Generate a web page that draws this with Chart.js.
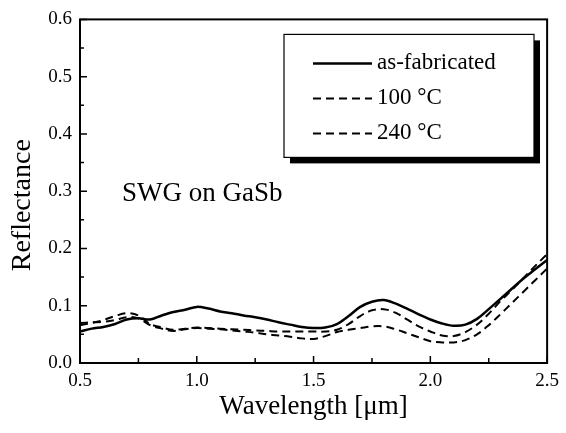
<!DOCTYPE html>
<html>
<head>
<meta charset="utf-8">
<script src="https://cdn.jsdelivr.net/npm/chart.js@4.4.1/dist/chart.umd.min.js"></script>
<style>
  html, body { margin: 0; padding: 0; background: #fff; }
  #wrap { width: 566px; height: 433px; }
</style>
</head>
<body>
<div id="wrap"><canvas id="reflChart" width="566" height="433"></canvas></div>
<script>
// wavelength in um, reflectance
const wavelength = [0.5, 0.55, 0.6, 0.65, 0.7, 0.75, 0.8, 0.85, 0.9, 0.95, 1.0, 1.05, 1.1, 1.15, 1.2, 1.25, 1.3, 1.35, 1.4, 1.45,
                    1.5, 1.55, 1.6, 1.65, 1.7, 1.75, 1.8, 1.85, 1.9, 1.95, 2.0, 2.05, 2.1, 2.15, 2.2, 2.25, 2.3, 2.35, 2.4, 2.45, 2.5];
const asFabricated = [0.055, 0.060, 0.063, 0.068, 0.076, 0.078, 0.076, 0.083, 0.089, 0.093, 0.098, 0.095, 0.090, 0.087, 0.083, 0.080, 0.076, 0.071, 0.067, 0.063,
                      0.061, 0.062, 0.068, 0.082, 0.098, 0.107, 0.110, 0.104, 0.095, 0.085, 0.076, 0.069, 0.065, 0.067, 0.077, 0.094, 0.112, 0.130, 0.148, 0.164, 0.180];
const anneal100 = [0.066, 0.070, 0.075, 0.082, 0.087, 0.083, 0.068, 0.062, 0.058, 0.060, 0.062, 0.061, 0.060, 0.059, 0.058, 0.057, 0.056, 0.055, 0.055, 0.055,
                   0.055, 0.055, 0.058, 0.068, 0.082, 0.092, 0.094, 0.088, 0.076, 0.064, 0.055, 0.048, 0.047, 0.054, 0.067, 0.086, 0.108, 0.128, 0.149, 0.170, 0.190];
const anneal240 = [0.070, 0.071, 0.072, 0.075, 0.080, 0.078, 0.066, 0.060, 0.056, 0.059, 0.061, 0.060, 0.059, 0.057, 0.055, 0.053, 0.050, 0.048, 0.046, 0.043,
                   0.042, 0.047, 0.054, 0.058, 0.061, 0.064, 0.064, 0.059, 0.052, 0.045, 0.038, 0.036, 0.036, 0.040, 0.050, 0.066, 0.085, 0.105, 0.125, 0.145, 0.165];

const seriesLabels = ['as-fabricated', '100 \u00b0C', '240 \u00b0C'];
const xTicks = { min: 0.5, max: 2.5, step: 0.5 };
const yTicks = { min: 0, max: 0.6, step: 0.1 };
const noteText = 'SWG on GaSb';
const yTitle = 'Reflectance';

const serif = "'Liberation Serif', 'Times New Roman', serif";
const pts = ys => wavelength.map((x, i) => ({ x, y: ys[i] }));

// frame, inward ticks, y title, note and boxed legend
const decorations = {
    id: 'decorations',
    afterDraw(chart) {
        const { ctx, chartArea: a, scales: { x, y } } = chart;
        ctx.save();
        ctx.strokeStyle = '#000';

        // inward ticks, minor halfway between majors
        ctx.lineWidth = 1.5;
        ctx.beginPath();
        for (let v = xTicks.min; v <= xTicks.max + 1e-9; v += xTicks.step / 2) {
            const major = Math.abs((v - xTicks.min) / xTicks.step - Math.round((v - xTicks.min) / xTicks.step)) < 1e-6;
            const px = x.getPixelForValue(v);
            ctx.moveTo(px, a.bottom);
            ctx.lineTo(px, a.bottom - (major ? 7 : 5));
        }
        for (let v = yTicks.min; v <= yTicks.max + 1e-9; v += yTicks.step / 2) {
            const major = Math.abs(v / yTicks.step - Math.round(v / yTicks.step)) < 1e-6;
            const py = y.getPixelForValue(v);
            ctx.moveTo(a.left, py);
            ctx.lineTo(a.left + (major ? 7 : 4), py);
        }
        ctx.stroke();

        ctx.lineWidth = 2;
        ctx.strokeRect(a.left, a.top, a.right - a.left, a.bottom - a.top);

        ctx.fillStyle = '#000';
        ctx.textBaseline = 'middle';

        // y title sits a bit below the axis middle in the original
        ctx.save();
        ctx.translate(23, (a.top + a.bottom) / 2 + 14);
        ctx.rotate(-Math.PI / 2);
        ctx.textAlign = 'center';
        ctx.font = '28px ' + serif;
        ctx.fillText(yTitle, 0, 0);
        ctx.restore();

        // annotation
        ctx.font = '27px ' + serif;
        ctx.textAlign = 'left';
        ctx.fillText(noteText, x.getPixelForValue(0.68), y.getPixelForValue(0.296));

        // legend box with drop shadow
        const bx = a.left + 204, by = a.top + 15, bw = 250, bh = 123;
        ctx.fillRect(bx + 6, by + 6, bw, bh);
        ctx.fillStyle = '#fff';
        ctx.fillRect(bx, by, bw, bh);
        ctx.lineWidth = 1.2;
        ctx.strokeRect(bx, by, bw, bh);

        ctx.font = '23px ' + serif;
        chart.data.datasets.forEach((ds, i) => {
            const ly = by + 29 + i * 35;
            ctx.beginPath();
            ctx.setLineDash(ds.borderDash || []);
            ctx.lineWidth = ds.borderWidth;
            ctx.strokeStyle = ds.borderColor;
            ctx.moveTo(bx + 29, ly);
            ctx.lineTo(bx + 88, ly);
            ctx.stroke();
            ctx.setLineDash([]);
            ctx.fillStyle = '#000';
            ctx.fillText(ds.label, bx + 93, ly);
        });
        ctx.restore();
    }
};

const ctx = document.getElementById('reflChart').getContext('2d');
new Chart(ctx, {
    type: 'line',
    data: {
        datasets: [
            {
                label: seriesLabels[0],
                data: pts(asFabricated),
                borderColor: '#000',
                borderWidth: 2.5,
                pointRadius: 0,
                tension: 0.35,
                fill: false,
            },
            {
                label: seriesLabels[1],
                data: pts(anneal100),
                borderColor: '#000',
                borderWidth: 2,
                borderDash: [8, 5],
                pointRadius: 0,
                tension: 0.35,
                fill: false,
            },
            {
                label: seriesLabels[2],
                data: pts(anneal240),
                borderColor: '#000',
                borderWidth: 2,
                borderDash: [8, 5],
                pointRadius: 0,
                tension: 0.35,
                fill: false,
            },
        ],
    },
    options: {
        responsive: false,
        animation: false,
        layout: { padding: { top: 18, right: 11, left: 0, bottom: 0 } },
        plugins: {
            legend: { display: false },
            tooltip: { enabled: false },
        },
        scales: {
            x: {
                type: 'linear',
                min: xTicks.min,
                max: xTicks.max,
                grid: { display: false, drawTicks: false },
                border: { display: false },
                ticks: {
                    stepSize: xTicks.step,
                    padding: 7,
                    color: '#000',
                    font: { family: serif, size: 19 },
                    callback: v => v.toFixed(1),
                },
                title: {
                    display: true,
                    text: 'Wavelength [\u03bcm]',
                    color: '#000',
                    font: { family: serif, size: 27 },
                    padding: { top: 0, bottom: 10 },
                },
                afterFit: s => { s.height = 70; },
            },
            y: {
                min: yTicks.min,
                max: yTicks.max,
                grid: { display: false, drawTicks: false },
                border: { display: false },
                ticks: {
                    stepSize: yTicks.step,
                    padding: 8,
                    color: '#000',
                    font: { family: serif, size: 19 },
                    callback: v => v.toFixed(1),
                },
                title: { display: false },
                afterFit: s => { s.width = 80; },
            },
        },
    },
    plugins: [decorations],
});
</script>
</body>
</html>
